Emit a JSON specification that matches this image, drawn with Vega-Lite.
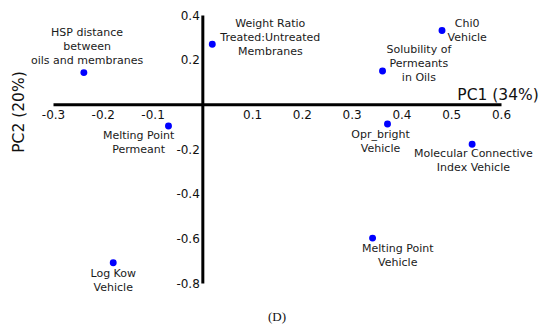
{
  "$schema": "https://vega.github.io/schema/vega-lite/v6.json",
  "width": 448,
  "height": 268,
  "autosize": {"type": "none"},
  "padding": {"left": 53, "top": 15, "right": 49, "bottom": 44},
  "background": "white",
  "config": {
    "view": {"stroke": null},
    "font": "DejaVu Sans",
    "locale": {"number": {"decimal": ".", "thousands": ",", "grouping": [3], "currency": ["$", ""], "minus": "-"}}
  },
  "title": {
    "text": "(D)",
    "orient": "bottom",
    "anchor": "middle",
    "font": "Liberation Serif",
    "fontSize": 13,
    "fontWeight": "normal",
    "color": "#111111",
    "offset": 18
  },
  "data": {
    "values": [
      {"label": ["HSP distance", "between", "oils and membranes"], "pc1": -0.238, "pc2": 0.142, "lx": -0.2315, "ly": 0.318},
      {"label": ["Weight Ratio", "Treated:Untreated", "Membranes"], "pc1": 0.020, "pc2": 0.269, "lx": 0.1365, "ly": 0.360},
      {"label": ["Chi0", "Vehicle"], "pc1": 0.4815, "pc2": 0.331, "lx": 0.532, "ly": 0.358},
      {"label": ["Solubility of", "Permeants", "in Oils"], "pc1": 0.362, "pc2": 0.149, "lx": 0.435, "ly": 0.243},
      {"label": ["Melting Point", "Permeant"], "pc1": -0.068, "pc2": -0.097, "lx": -0.128, "ly": -0.144},
      {"label": ["Opr_bright", "Vehicle"], "pc1": 0.372, "pc2": -0.088, "lx": 0.358, "ly": -0.137},
      {"label": ["Molecular Connective", "Index Vehicle"], "pc1": 0.542, "pc2": -0.179, "lx": 0.5446, "ly": -0.223},
      {"label": ["Log Kow", "Vehicle"], "pc1": -0.179, "pc2": -0.709, "lx": -0.179, "ly": -0.760},
      {"label": ["Melting Point", "Vehicle"], "pc1": 0.342, "pc2": -0.599, "lx": 0.3926, "ly": -0.647}
    ]
  },
  "layer": [
    {
      "mark": {"type": "point", "filled": true, "opacity": 1, "size": 48, "color": "#0000ff"},
      "encoding": {
        "x": {
          "field": "pc1", "type": "quantitative",
          "scale": {"domain": [-0.3, 0.6], "nice": false, "zero": false},
          "axis": {
            "title": "PC1 (34%)",
            "values": [-0.3, -0.2, -0.1, 0.1, 0.2, 0.3, 0.4, 0.5, 0.6],
            "format": ".1f",
            "offset": -178.67,
            "grid": false, "ticks": false, "tickSize": 0,
            "domainColor": "#000000", "domainWidth": 3,
            "labelFont": "DejaVu Sans", "labelFontSize": 12, "labelColor": "#111111",
            "labelPadding": 5, "labelFlush": false, "labelOverlap": false,
            "titleFont": "DejaVu Sans", "titleFontSize": 15.5, "titleFontWeight": "normal", "titleColor": "#111111",
            "titleAngle": 0, "titleX": 485.3, "titleY": -5.3, "titleAlign": "right", "titleBaseline": "alphabetic"
          }
        },
        "y": {
          "field": "pc2", "type": "quantitative",
          "scale": {"domain": [-0.8, 0.4], "nice": false, "zero": false},
          "axis": {
            "title": "PC2 (20%)",
            "values": [-0.8, -0.6, -0.4, -0.2, 0.2, 0.4],
            "format": ".1f",
            "offset": -149.33,
            "grid": false, "ticks": false, "tickSize": 0,
            "domainColor": "#000000", "domainWidth": 3,
            "labelFont": "DejaVu Sans", "labelFontSize": 12, "labelColor": "#111111",
            "labelPadding": 3, "labelFlush": false, "labelOverlap": false,
            "titleFont": "DejaVu Sans", "titleFontSize": 15.5, "titleFontWeight": "normal", "titleColor": "#111111",
            "titleAngle": -90, "titleX": -178.5, "titleY": 96.5, "titleAlign": "center", "titleBaseline": "alphabetic"
          }
        }
      }
    },
    {
      "mark": {"type": "text", "fontSize": 11, "lineHeight": 14, "align": "center", "baseline": "middle", "color": "#1a1a1a", "font": "DejaVu Sans"},
      "encoding": {
        "x": {"field": "lx", "type": "quantitative"},
        "y": {"field": "ly", "type": "quantitative"},
        "text": {"field": "label"}
      }
    }
  ]
}
